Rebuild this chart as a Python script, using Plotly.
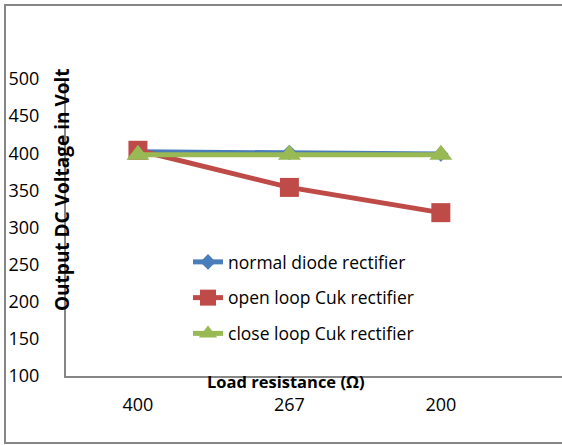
import plotly.graph_objects as go

categories = ["400", "267", "200"]
normal_diode = [402, 401, 399]
open_loop = [404, 354, 320]
close_loop = [398, 398, 398]
y_ticks = [100, 150, 200, 250, 300, 350, 400, 450, 500]

FONT = "Open Sans"
W, H = 562, 445
L, R, T, B = 66, 0, 79, 69
pw, ph = W - L - R, H - T - B

fig = go.Figure()
fig.add_trace(go.Scatter(x=[0, 1, 2], y=normal_diode, name="normal diode rectifier",
                         mode="lines+markers", legendgroup="a",
                         line=dict(color="#4A7EBB", width=5),
                         marker=dict(symbol="diamond", size=12, color="#4A7EBB")))
fig.add_trace(go.Scatter(x=[0, 1, 2], y=open_loop, name="open loop Cuk rectifier",
                         mode="lines+markers", legendgroup="b",
                         line=dict(color="#BE4B48", width=5),
                         marker=dict(symbol="square", size=19, color="#BE4B48")))
fig.add_trace(go.Scatter(x=[0, 1, 2], y=close_loop, name="close loop Cuk rectifier",
                         mode="lines+markers", legendgroup="c",
                         line=dict(color="#98B954", width=5),
                         marker=dict(symbol="triangle-up", size=20, color="#98B954")))

fig.add_shape(type="rect", xref="paper", yref="paper",
              x0=(5 - L) / pw, x1=1.05, y0=-(443 - (T + ph)) / ph, y1=(T + ph - 5) / ph,
              line=dict(color="#868686", width=2), fillcolor="rgba(0,0,0,0)", layer="below")

fig.add_annotation(text="<b>Load resistance (Ω)</b>", xref="paper", yref="paper",
                   x=(286 - L) / pw, y=(T + ph - 381) / ph, xanchor="center", yanchor="middle",
                   showarrow=False, font=dict(size=16.5, family=FONT, color="black"))
fig.add_annotation(text="<b>Output DC Voltage in Volt</b>", xref="paper", yref="paper",
                   x=(62 - L) / pw, y=(T + ph - 190) / ph, xanchor="center", yanchor="middle",
                   textangle=-90, showarrow=False, font=dict(size=19, family=FONT, color="black"))

fig.update_layout(
    width=W, height=H,
    margin=dict(l=L, r=R, t=T, b=B, pad=0),
    paper_bgcolor="white", plot_bgcolor="white",
    font=dict(family=FONT, size=18, color="black"),
    showlegend=True,
    legend=dict(x=(188 - L) / pw, y=(T + ph - 244) / ph, xanchor="left", yanchor="top",
                bgcolor="rgba(0,0,0,0)", font=dict(size=17.5, family=FONT),
                tracegroupgap=10, traceorder="grouped"),
    xaxis=dict(range=[-0.475, 2.8], tickmode="array", tickvals=[0, 1, 2], ticktext=categories,
               showgrid=False, zeroline=False, showline=True, linecolor="#868686", linewidth=2,
               ticks="", tickfont=dict(size=18), ticklabelstandoff=11),
    yaxis=dict(range=[100, 500], tickvals=y_ticks, showgrid=False, zeroline=False,
               showline=True, linecolor="#868686", linewidth=2, ticks="",
               tickfont=dict(size=18), ticklabelstandoff=21),
)
fig.write_html("out.html", config={"displayModeBar": False},
               post_script="document.body.style.margin='0';")
